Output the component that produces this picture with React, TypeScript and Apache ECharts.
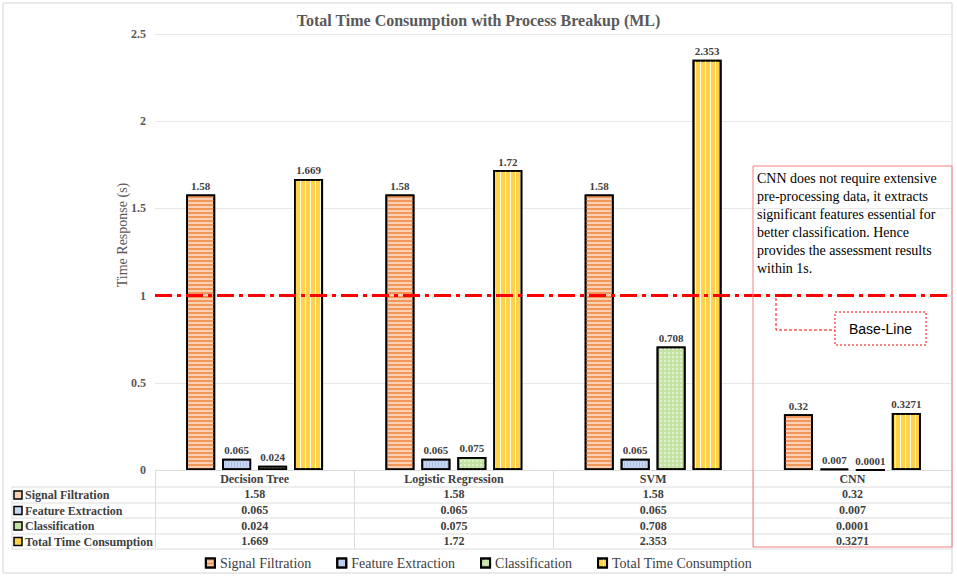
import React, { useEffect, useRef } from "react";
import * as echarts from "echarts";

const categories = ["Decision Tree", "Logistic Regression", "SVM", "CNN"];
const seriesNames = ["Signal Filtration", "Feature Extraction", "Classification", "Total Time Consumption"];
const signalFiltration = [1.58, 1.58, 1.58, 0.32];
const featureExtraction = [0.065, 0.065, 0.065, 0.007];
const classification = [0.024, 0.075, 0.708, 0.0001];
const totalTime = [1.669, 1.72, 2.353, 0.3271];
const baseLineValue = 1;
const noteLines = [
  "CNN does not require extensive",
  "pre-processing data, it extracts",
  "significant features essential for",
  "better classification. Hence",
  "provides the assessment results",
  "within 1s.",
];

const allSeries = [signalFiltration, featureExtraction, classification, totalTime];
const baseColors = ["#FAD0B4", "#C9D8F0", "#C4E3A2", "#FFD24A"];
const decals = [
  { symbol: "rect", symbolSize: 1, color: "#F2965A", dashArrayX: [1, 0], dashArrayY: [2, 2] },
  { symbol: "rect", symbolSize: 1, color: "#A8BFE6", dashArrayX: [1, 2], dashArrayY: [1, 0] },
  { symbol: "rect", symbolSize: 1, color: "rgba(255,255,255,0.45)", dashArrayX: [2, 2], dashArrayY: [2, 2] },
  { symbol: "rect", symbolSize: 1, color: "rgba(255,255,255,0.85)", dashArrayX: [1, 4], dashArrayY: [1, 0] },
];

const SERIF = "'Liberation Serif', 'Times New Roman', serif";

export default function App() {
  const ref = useRef<HTMLDivElement>(null);
  useEffect(() => {
    if (!ref.current) return;
    const chart = echarts.init(ref.current, undefined, { renderer: "svg" });
    const gridLeft = 155;
    const gridRight = 952;
    const rowYs = [471, 487, 503, 518, 534, 549];
    const rowCenters = [495, 510.5, 526, 541.5];

    const graphic: any[] = [];
    graphic.push({
      type: "rect",
      shape: { x: 3, y: 3, width: 949, height: 570 },
      style: { fill: "none", stroke: "#D4D4D4", lineWidth: 1 },
      silent: true,
    });
    graphic.push({
      type: "text",
      x: 122,
      y: 235,
      rotation: Math.PI / 2,
      style: {
        text: "Time Response (s)",
        fontFamily: SERIF,
        fontSize: 14,
        fill: "#595959",
        align: "center",
        verticalAlign: "middle",
      },
      silent: true,
    });
    for (let i = 1; i < rowYs.length; i++) {
      graphic.push({
        type: "line",
        shape: { x1: 12, y1: rowYs[i], x2: gridRight, y2: rowYs[i] },
        style: { stroke: "#DCDCDC", lineWidth: 1 },
        silent: true,
      });
    }
    graphic.push({
      type: "line",
      shape: { x1: 12, y1: rowYs[1], x2: 12, y2: rowYs[5] },
      style: { stroke: "#DCDCDC", lineWidth: 1 },
      silent: true,
    });
    seriesNames.forEach((n, i) => {
      graphic.push({
        type: "rect",
        shape: { x: 14, y: rowCenters[i] - 4, width: 8, height: 8 },
        style: { fill: baseColors[i], stroke: "#000", lineWidth: 1.5 },
        silent: true,
      });
      graphic.push({
        type: "text",
        x: 25,
        y: rowCenters[i],
        style: {
          text: n,
          fontFamily: SERIF,
          fontSize: 12,
          fontWeight: "bold",
          fill: "#404040",
          verticalAlign: "middle",
          align: "left",
        },
        silent: true,
      });
    });
    graphic.push({
      type: "rect",
      z: 10,
      shape: { x: 753, y: 166, width: 199, height: 381 },
      style: { fill: "none", stroke: "#F08080", lineWidth: 1 },
      silent: true,
    });
    graphic.push({
      type: "text",
      z: 10,
      x: 757,
      y: 169,
      style: {
        text: noteLines.join("\n"),
        fontFamily: SERIF,
        fontSize: 14,
        lineHeight: 18,
        fill: "#000",
        align: "left",
        verticalAlign: "top",
      },
      silent: true,
    });
    graphic.push({
      type: "polyline",
      z: 10,
      shape: { points: [[776, 298], [776, 330], [835, 330]] },
      style: { stroke: "#FF0000", lineWidth: 1, lineDash: [3, 2], fill: "none" },
      silent: true,
    });
    graphic.push({
      type: "rect",
      z: 10,
      shape: { x: 835, y: 312, width: 91, height: 33 },
      style: { fill: "#fff", stroke: "#FF0000", lineWidth: 1, lineDash: [2, 2] },
      silent: true,
    });
    graphic.push({
      type: "text",
      z: 11,
      x: 880.5,
      y: 329,
      style: {
        text: "Base-Line",
        fontFamily: "'Liberation Sans', Arial, sans-serif",
        fontSize: 14,
        fill: "#000",
        align: "center",
        verticalAlign: "middle",
      },
      silent: true,
    });

    const series: any[] = allSeries.map((vals, i) => ({
      name: seriesNames[i],
      type: "bar",
      data: vals,
      barWidth: 29,
      barGap: "24%",
      itemStyle: {
        color: baseColors[i],
        borderColor: "#000",
        borderWidth: 1.8,
        decal: decals[i],
      },
      label: {
        show: true,
        position: "top",
        distance: 3,
        formatter: (p: any) => String(p.value),
        fontFamily: SERIF,
        fontSize: 11,
        fontWeight: "bold",
        color: "#404040",
      },
      ...(i === 0
        ? {
            markLine: {
              silent: true,
              symbol: ["none", "none"],
              label: { show: false },
              lineStyle: { color: "#FF0000", width: 3, type: [17, 5, 4, 5] },
              data: [{ yAxis: baseLineValue }],
              z: 5,
            },
          }
        : {}),
    }));

    chart.setOption({
      animation: false,
      title: {
        text: "Total Time Consumption with Process Breakup (ML)",
        left: "center",
        top: 7,
        textStyle: { fontFamily: SERIF, fontSize: 16, fontWeight: "bold", color: "#595959" },
      },
      grid: { left: gridLeft, right: 957 - gridRight, top: 34, bottom: 577 - 470 },
      legend: {
        data: seriesNames,
        left: "center",
        top: 551,
        itemWidth: 9,
        itemHeight: 9,
        itemGap: 25,
        icon: "rect",
        textStyle: { fontFamily: SERIF, fontSize: 14, color: "#404040" },
      },
      xAxis: {
        type: "category",
        data: categories,
        axisLine: { show: true, lineStyle: { color: "#DCDCDC" } },
        axisTick: { show: true, interval: 0, length: 78, lineStyle: { color: "#DCDCDC" } },
        axisLabel: {
          interval: 0,
          margin: 1,
          fontFamily: SERIF,
          fontSize: 12,
          fontWeight: "bold",
          color: "#404040",
          lineHeight: 15.6,
          formatter: (v: string, idx: number) =>
            [v, ...allSeries.map((s) => String(s[idx]))].join("\n"),
        },
      },
      yAxis: {
        type: "value",
        min: 0,
        max: 2.5,
        interval: 0.5,
        axisLabel: { margin: 9, fontFamily: SERIF, fontSize: 12, fontWeight: "bold", color: "#595959" },
        splitLine: { lineStyle: { color: "#E8E8E8" } },
        axisLine: { show: false },
        axisTick: { show: false },
      },
      series,
      graphic,
    });
    return () => chart.dispose();
  }, []);
  return (
    <div
      ref={ref}
      style={{ position: "fixed", left: 0, top: 0, width: 957, height: 577, background: "#fff" }}
    />
  );
}
